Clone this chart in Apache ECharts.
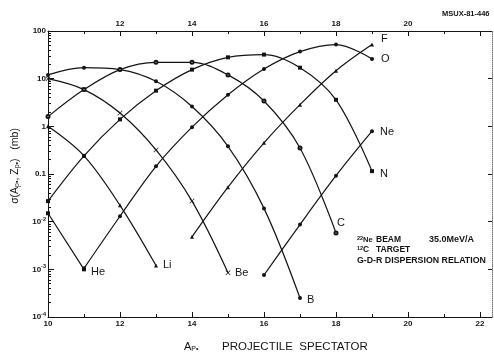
<!DOCTYPE html>
<html>
<head>
<meta charset="utf-8">
<script src="https://cdn.jsdelivr.net/npm/echarts@6/dist/echarts.min.js"></script>
<style>
html,body{margin:0;padding:0;background:#fff}
#c{width:494px;height:354px}
</style>
</head>
<body>
<div id="c"></div>
<script>
// Projectile-spectator mass numbers (A_p*) and cross sections (mb) per fragment element
const apHe = [10, 11];
const sigHe = [0.015, 0.001];
const apLi = [10, 11, 12, 13];
const sigLi = [1.0, 0.24, 0.022, 0.0012];
const apBe = [10, 11, 12, 13, 14, 15];
const sigBe = [10, 5.9, 1.9, 0.32, 0.027, 0.00085];
const apB = [10, 11, 12, 13, 14, 15, 16, 17];
const sigB = [12, 17, 15.5, 8.8, 2.6, 0.38, 0.019, 0.00025];
const apC = [10, 11, 12, 13, 14, 15, 16, 17, 18];
const sigC = [1.6, 5.9, 15.5, 22, 22, 12, 3.4, 0.35, 0.0058];
const apN = [10, 11, 12, 13, 14, 15, 16, 17, 18, 19];
const sigN = [0.027, 0.24, 1.4, 5.6, 15.5, 28, 32, 17, 3.6, 0.115];
const apO = [11, 12, 13, 14, 15, 16, 17, 18, 19];
const sigO = [0.00105, 0.013, 0.145, 0.96, 4.6, 16, 37, 52, 26];
const apF = [14, 15, 16, 17, 18, 19];
const sigF = [0.0048, 0.053, 0.45, 2.85, 14.7, 52];
const apNe = [16, 17, 18, 19];
const sigNe = [0.00076, 0.0087, 0.092, 0.79];

// Axis ticks
const xLabelsBottom = [10, 12, 14, 16, 18, 20, 22];
const xLabelsTop = [12, 14, 16, 18, 20];
const xTicksEven = [10, 12, 14, 16, 18, 20, 22];
const xTicksOdd = [11, 13, 15, 17, 19, 21];
const yDecades = [1e-4, 1e-3, 1e-2, 0.1, 1, 10, 100];

const INK = '#141414';
const X_MIN = 10, X_MAX = 22 + 1 / 3;
const Y_MIN = 1e-4, Y_MAX = 100;

const yMinor = [];
for (let e = -4; e < 2; e++) {
  for (let m = 2; m <= 9; m++) yMinor.push(m * Math.pow(10, e));
}

const crossPath = 'path://M0,1L1,0L5,4L9,0L10,1L6,5L10,9L9,10L5,6L1,10L0,9L4,5Z';

function curve(name, ap, sig, symbol, size, offset) {
  const hollow = symbol.indexOf('empty') === 0;
  return {
    type: 'line',
    name: name,
    xAxisIndex: 0,
    yAxisIndex: 0,
    data: ap.map((a, i) => [a, sig[i]]),
    smooth: 0.35,
    symbol: symbol,
    symbolSize: size,
    showAllSymbol: true,
    color: INK,
    lineStyle: { color: INK, width: 1.2 },
    itemStyle: { color: INK, borderWidth: hollow ? 1 : 0 },
    endLabel: {
      show: true,
      formatter: name,
      distance: 7,
      offset: offset,
      color: INK,
      fontFamily: 'Liberation Sans',
      fontSize: 11
    },
    labelLayout: { hideOverlap: false },
    animation: false,
    z: 3
  };
}

function yLabel(v) {
  const e = Math.round(Math.log10(v));
  if (e >= 2) return '100';
  if (e === 1) return '10';
  if (e === 0) return '1';
  if (e === -1) return '0.1';
  return '10{sup|' + e + '}';
}

const axisFont = { fontFamily: 'Liberation Sans', fontSize: 8, fontWeight: 'bold', color: INK };

function xAxisDef(pos, ticks, tickLen, labels, showLine) {
  return {
    type: 'value', position: pos, min: X_MIN, max: X_MAX,
    axisLine: { show: showLine, lineStyle: { color: INK, width: 1 } },
    axisTick: { show: true, inside: true, length: tickLen, customValues: ticks, lineStyle: { color: INK, width: 1 } },
    axisLabel: labels ? Object.assign({ show: true, customValues: labels, margin: 3 }, axisFont) : { show: false },
    splitLine: { show: false }
  };
}

function yAxisDef(pos, ticks, tickLen, labels, line) {
  return {
    type: 'log', logBase: 10, position: pos, min: Y_MIN, max: Y_MAX,
    axisLine: line ? { show: true, lineStyle: line } : { show: false },
    axisTick: { show: true, inside: true, length: tickLen, customValues: ticks, lineStyle: { color: INK, width: 1 } },
    axisLabel: labels ? Object.assign({
      show: true, customValues: labels, margin: 2, formatter: yLabel,
      rich: { sup: { fontFamily: 'Liberation Sans', fontSize: 5.5, fontWeight: 'bold', color: INK, padding: [0, 0, 5, 0] } }
    }, axisFont) : { show: false },
    splitLine: { show: false }
  };
}

const chart = echarts.init(document.getElementById('c'), null, { renderer: 'canvas' });

chart.setOption({
  backgroundColor: '#fff',
  animation: false,
  grid: { left: 48, right: 2, top: 31, bottom: 37, containLabel: false },
  xAxis: [
    xAxisDef('bottom', xTicksEven, 5, xLabelsBottom, true),
    xAxisDef('bottom', xTicksOdd, 3, null, false),
    xAxisDef('top', xTicksEven, 5, xLabelsTop, true),
    xAxisDef('top', xTicksOdd, 3, null, false)
  ],
  yAxis: [
    yAxisDef('left', yDecades, 6, yDecades, { color: INK, width: 1 }),
    yAxisDef('left', yMinor, 3, null, null),
    yAxisDef('right', yDecades, 4, null, { color: '#777', width: 1, type: 'dotted' })
  ],
  series: [
    curve('He', apHe, sigHe, 'rect', 4, [0, 3]),
    curve('Li', apLi, sigLi, 'triangle', 4, [0, -1]),
    curve('Be', apBe, sigBe, crossPath, 5, [0, 0]),
    curve('B', apB, sigB, 'circle', 4, [0, 2]),
    curve('C', apC, sigC, 'emptyCircle', 3, [-6, -10]),
    curve('N', apN, sigN, 'rect', 4, [1, 3]),
    curve('O', apO, sigO, 'circle', 4, [2, 0]),
    curve('F', apF, sigF, 'triangle', 4, [2, -6]),
    curve('Ne', apNe, sigNe, 'circle', 4, [1, 1])
  ],
  graphic: [
    {
      type: 'text', left: 442, top: 10,
      style: { text: 'MSUX-81-446', fontFamily: 'Liberation Sans', fontSize: 7.5, fontWeight: 'bold', fill: INK }
    },
    {
      type: 'text', x: 15, y: 166, rotation: Math.PI / 2,
      style: {
        text: 'σ(A{s|p•}, Z{s|p•})   (mb)',
        fontFamily: 'Liberation Sans', fontSize: 10.5, fill: INK,
        align: 'center', verticalAlign: 'middle',
        rich: { s: { fontFamily: 'Liberation Sans', fontSize: 7, fill: INK, padding: [5, 0, 0, 0] } }
      }
    },
    {
      type: 'text', x: 184, y: 347,
      style: {
        text: 'A{s|P•}',
        fontFamily: 'Liberation Sans', fontSize: 11, fill: INK,
        align: 'left', verticalAlign: 'middle',
        rich: { s: { fontFamily: 'Liberation Sans', fontSize: 7, fill: INK, padding: [5, 0, 0, 0] } }
      }
    },
    {
      type: 'text', x: 222, y: 347,
      style: {
        text: 'PROJECTILE  SPECTATOR',
        fontFamily: 'Liberation Sans', fontSize: 11.5, fill: INK,
        align: 'left', verticalAlign: 'middle'
      }
    },
    {
      type: 'text', x: 357, y: 240,
      style: {
        text: '{p|22}Ne',
        fontFamily: 'Liberation Sans', fontSize: 7.5, fontWeight: 'bold', fill: INK, verticalAlign: 'middle',
        rich: { p: { fontFamily: 'Liberation Sans', fontSize: 5.5, fontWeight: 'bold', fill: INK, padding: [0, 0, 4, 0] } }
      }
    },
    {
      type: 'text', x: 376, y: 240,
      style: { text: 'BEAM', fontFamily: 'Liberation Sans', fontSize: 8.5, fontWeight: 'bold', fill: INK, verticalAlign: 'middle' }
    },
    {
      type: 'text', x: 429, y: 240,
      style: { text: '35.0MeV/A', fontFamily: 'Liberation Sans', fontSize: 9, fontWeight: 'bold', fill: INK, verticalAlign: 'middle' }
    },
    {
      type: 'text', x: 357, y: 250,
      style: {
        text: '{p|12}C',
        fontFamily: 'Liberation Sans', fontSize: 8.5, fontWeight: 'bold', fill: INK, verticalAlign: 'middle',
        rich: { p: { fontFamily: 'Liberation Sans', fontSize: 5.5, fontWeight: 'bold', fill: INK, padding: [0, 0, 4, 0] } }
      }
    },
    {
      type: 'text', x: 376, y: 250,
      style: { text: 'TARGET', fontFamily: 'Liberation Sans', fontSize: 8.5, fontWeight: 'bold', fill: INK, verticalAlign: 'middle' }
    },
    {
      type: 'text', x: 357, y: 261,
      style: { text: 'G-D-R DISPERSION RELATION', fontFamily: 'Liberation Sans', fontSize: 8.8, fontWeight: 'bold', fill: INK, verticalAlign: 'middle' }
    }
  ]
});
</script>
</body>
</html>
